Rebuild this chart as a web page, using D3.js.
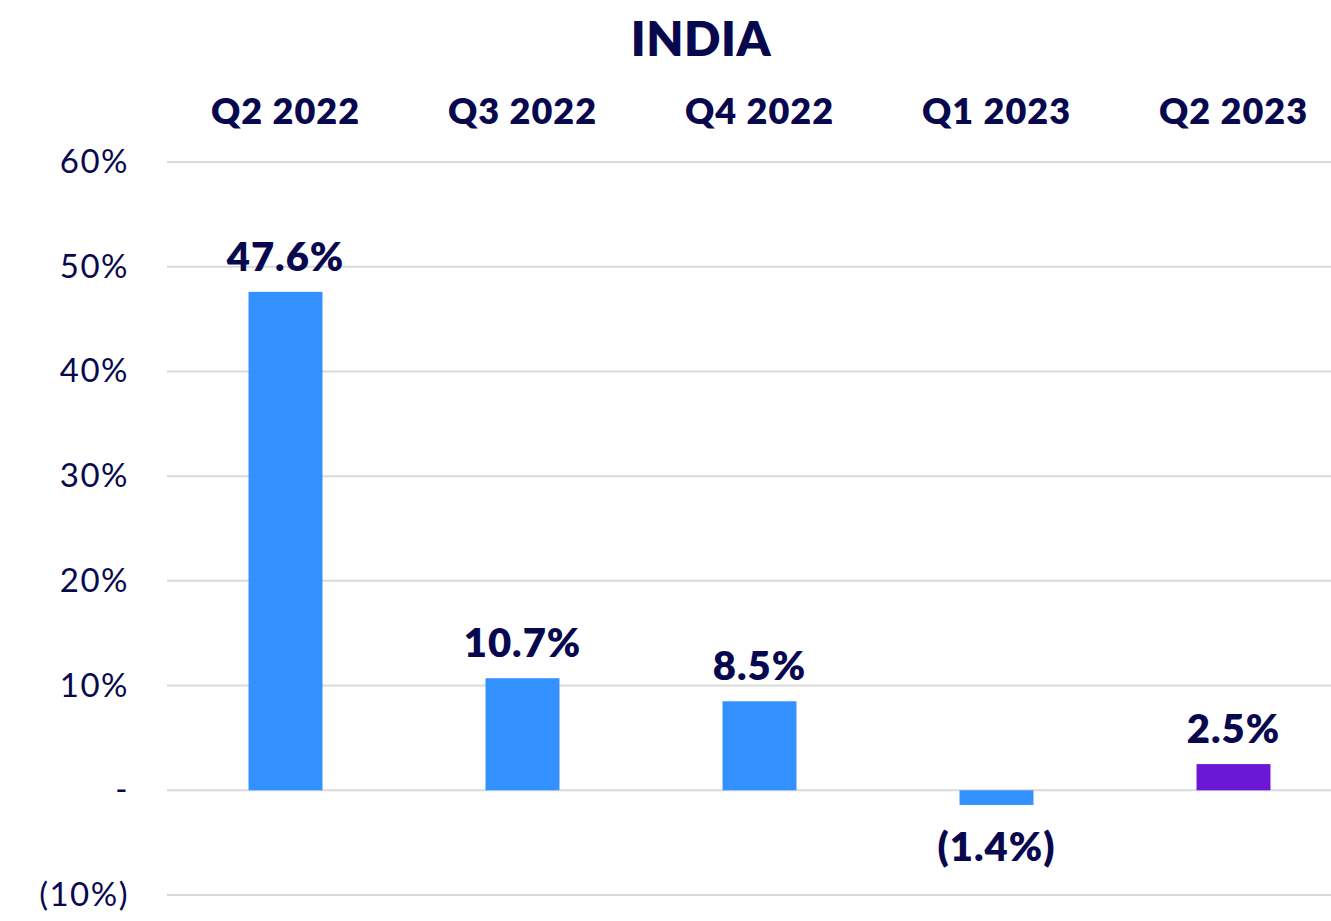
<!DOCTYPE html>
<html>
<head>
<meta charset="utf-8">
<script src="https://cdn.jsdelivr.net/npm/d3@7"></script>
<style>
  body { margin: 0; background: #fff; }
  text { font-family: Lato, "Noto Sans", sans-serif; fill: #08084f; }
</style>
</head>
<body>
<svg width="1331" height="921"></svg>
<script>
var quarters = ["Q2 2022", "Q3 2022", "Q4 2022", "Q1 2023", "Q2 2023"];
var growth = [47.6, 10.7, 8.5, -1.4, 2.5];
var valueLabels = ["47.6%", "10.7%", "8.5%", "(1.4%)", "2.5%"];
var yTicks = [-10, 0, 10, 20, 30, 40, 50, 60];
var yTickLabels = ["(10%)", "-", "10%", "20%", "30%", "40%", "50%", "60%"];

var data = quarters.map((q, i) => ({q: q, v: growth[i], label: valueLabels[i]}));

var svg = d3.select("svg");

var y = d3.scaleLinear()
  .domain([-10, 60])
  .range([895, 162]);

var x = d3.scaleBand()
  .domain(quarters)
  .range([167, 1352])
  .paddingInner(0.688)
  .paddingOuter(0.344);

// title
svg.append("text")
  .attr("x", 701)
  .attr("y", 56)
  .attr("text-anchor", "middle")
  .attr("font-size", 48)
  .attr("font-weight", 800)
  .attr("letter-spacing", 0.5)
  .text("INDIA");

// gridlines
svg.append("g")
  .selectAll("line")
  .data(yTicks)
  .enter()
  .append("line")
  .attr("x1", 167)
  .attr("x2", 1331)
  .attr("y1", d => y(d))
  .attr("y2", d => y(d))
  .attr("stroke", "#dadada")
  .attr("stroke-width", 2);

// y axis labels
var yAxis = d3.axisLeft(y)
  .tickValues(yTicks)
  .tickFormat((d, i) => yTickLabels[i])
  .tickSize(0)
  .tickPadding(0);

var yAxisGroup = svg.append("g")
  .attr("transform", "translate(129,0)")
  .call(yAxis);
yAxisGroup.select(".domain").remove();
yAxisGroup.selectAll("text")
  .attr("font-size", 33)
  .attr("letter-spacing", 1.5)
  .attr("font-family", "Lato, 'Noto Sans', sans-serif")
  .attr("fill", "#08084f");

// category labels on top
var xAxisGroup = svg.append("g")
  .attr("transform", "translate(0,111)")
  .call(d3.axisTop(x).tickSize(0).tickPadding(0));
xAxisGroup.select(".domain").remove();
xAxisGroup.selectAll("text")
  .attr("font-size", 36)
  .attr("font-weight", 800)
  .attr("letter-spacing", 1)
  .attr("dy", "0.35em")
  .attr("font-family", "Lato, 'Noto Sans', sans-serif")
  .attr("fill", "#08084f");

// bars
svg.append("g")
  .selectAll("rect")
  .data(data)
  .enter()
  .append("rect")
  .attr("x", d => x(d.q))
  .attr("width", x.bandwidth())
  .attr("y", d => y(Math.max(0, d.v)))
  .attr("height", d => Math.abs(y(d.v) - y(0)))
  .attr("fill", (d, i) => i === data.length - 1 ? "#6a17d6" : "#3390ff");

// value labels
svg.append("g")
  .selectAll("text")
  .data(data)
  .enter()
  .append("text")
  .attr("x", d => x(d.q) + x.bandwidth() / 2)
  .attr("y", d => d.v >= 0 ? y(d.v) - 21 : y(d.v) + 56)
  .attr("text-anchor", "middle")
  .attr("font-size", 40)
  .attr("font-weight", 800)
  .attr("letter-spacing", 1)
  .text(d => d.label);
</script>
</body>
</html>
